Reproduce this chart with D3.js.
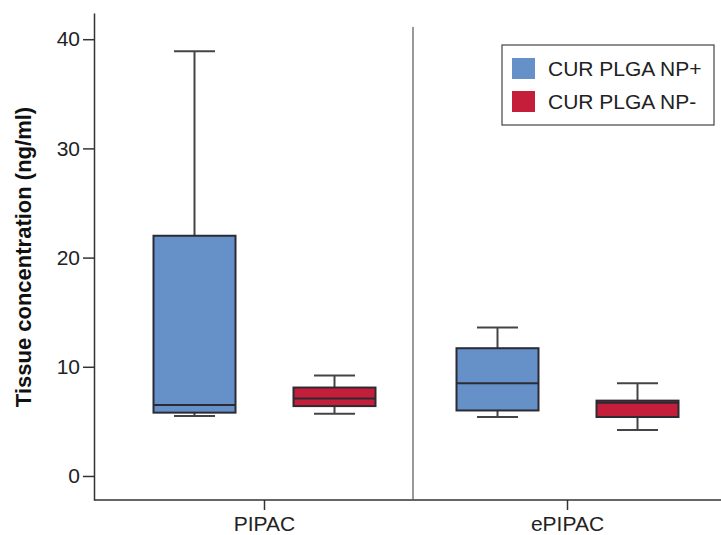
<!DOCTYPE html>
<html lang="en">
<head>
<meta charset="utf-8">
<title>Tissue concentration box plot</title>
<script src="https://d3js.org/d3.v7.min.js"></script>
<style>
body { margin: 0; background: #fff; }
svg { font-family: "Liberation Sans", Arial, sans-serif; }
.axis path, .axis line { stroke: #333; stroke-width: 1.5px; }
.axis text { fill: #222; font-size: 21px; }
.whisker { stroke: #444; stroke-width: 2px; }
.box { stroke: #2b2b35; stroke-width: 2px; }
</style>
</head>
<body>
<script>

// groups along the x axis and the two series
var groups = ["PIPAC", "ePIPAC"];
var series = ["CUR PLGA NP+", "CUR PLGA NP-"];
var colors = ["#6590c8", "#c41e3a"];

// box stats per group: [min, q1, median, q3, max]
var npPlus  = [[5.5, 5.8, 6.5, 22.0, 38.9], [5.4, 6.0, 8.5, 11.7, 13.6]];
var npMinus = [[5.7, 6.4, 7.1, 8.1, 9.2],  [4.2, 5.4, 6.7, 6.9, 8.5]];
var yTicks = [0, 10, 20, 30, 40];

var width = 721, height = 535;

var svg = d3.select("body").append("svg")
    .attr("width", width)
    .attr("height", height);

var x0 = d3.scaleBand()
    .domain(groups)
    .range([113, 719]);

var x1 = d3.scalePoint()
    .domain(series)
    .range([-70, 70]);

var y = d3.scaleLinear()
    .domain([-2.2, 42.4])
    .range([500, 13]);

var boxW = 82;

// axes
svg.append("g")
    .attr("class", "axis")
    .attr("transform", "translate(94,0)")
    .call(d3.axisLeft(y).tickValues(yTicks).tickSize(11).tickPadding(3).tickSizeOuter(0));

var xAxis = svg.append("g")
    .attr("class", "axis")
    .attr("transform", "translate(0,500)")
    .call(d3.axisBottom(x0).tickSize(10).tickPadding(6).tickSizeOuter(0));
xAxis.select(".domain").attr("d", "M94,0H721");

// divider between groups
svg.append("line")
    .attr("x1", x0("ePIPAC") - 3).attr("x2", x0("ePIPAC") - 3)
    .attr("y1", 27).attr("y2", 500)
    .attr("stroke", "#555")
    .attr("stroke-width", 1.2);

svg.append("text")
    .attr("transform", "rotate(-90)")
    .attr("x", -257)
    .attr("y", 31)
    .attr("text-anchor", "middle")
    .style("font-size", "22px")
    .style("font-weight", "bold")
    .style("fill", "#111")
    .text("Tissue concentration (ng/ml)");

// boxes
var rows = [];
groups.forEach(function(g, i) {
  rows.push({group: g, s: series[0], color: colors[0], v: npPlus[i]});
  rows.push({group: g, s: series[1], color: colors[1], v: npMinus[i]});
});

var box = svg.selectAll(".bp")
    .data(rows)
  .enter().append("g")
    .attr("class", "bp")
    .attr("transform", function(d) {
      return "translate(" + (x0(d.group) + x0.bandwidth() / 2 + x1(d.s)) + ",0)";
    });

box.append("line")
    .attr("class", "whisker")
    .attr("x1", 0).attr("x2", 0)
    .attr("y1", function(d) { return y(d.v[0]); })
    .attr("y2", function(d) { return y(d.v[4]); });

box.selectAll(".cap")
    .data(function(d) { return [d.v[0], d.v[4]]; })
  .enter().append("line")
    .attr("class", "whisker")
    .attr("x1", -boxW / 4).attr("x2", boxW / 4)
    .attr("y1", function(v) { return y(v); })
    .attr("y2", function(v) { return y(v); });

box.append("rect")
    .attr("class", "box")
    .attr("x", -boxW / 2)
    .attr("width", boxW)
    .attr("y", function(d) { return y(d.v[3]); })
    .attr("height", function(d) { return y(d.v[1]) - y(d.v[3]); })
    .attr("fill", function(d) { return d.color; });

box.append("line")
    .attr("class", "box")
    .attr("x1", -boxW / 2).attr("x2", boxW / 2)
    .attr("y1", function(d) { return y(d.v[2]); })
    .attr("y2", function(d) { return y(d.v[2]); });

// legend
var legend = svg.append("g").attr("transform", "translate(502,45)");
legend.append("rect")
    .attr("width", 212).attr("height", 80)
    .attr("fill", "#fff")
    .attr("stroke", "#444")
    .attr("stroke-width", 1.2);

var item = legend.selectAll(".item")
    .data(series)
  .enter().append("g")
    .attr("transform", function(d, i) { return "translate(10," + (13 + i * 33) + ")"; });

item.append("rect")
    .attr("width", 23).attr("height", 21)
    .attr("fill", function(d, i) { return colors[i]; });

item.append("text")
    .attr("x", 36)
    .attr("y", 11)
    .attr("dy", "0.35em")
    .style("font-size", "21px")
    .style("fill", "#222")
    .text(function(d) { return d; });

</script>
</body>
</html>
